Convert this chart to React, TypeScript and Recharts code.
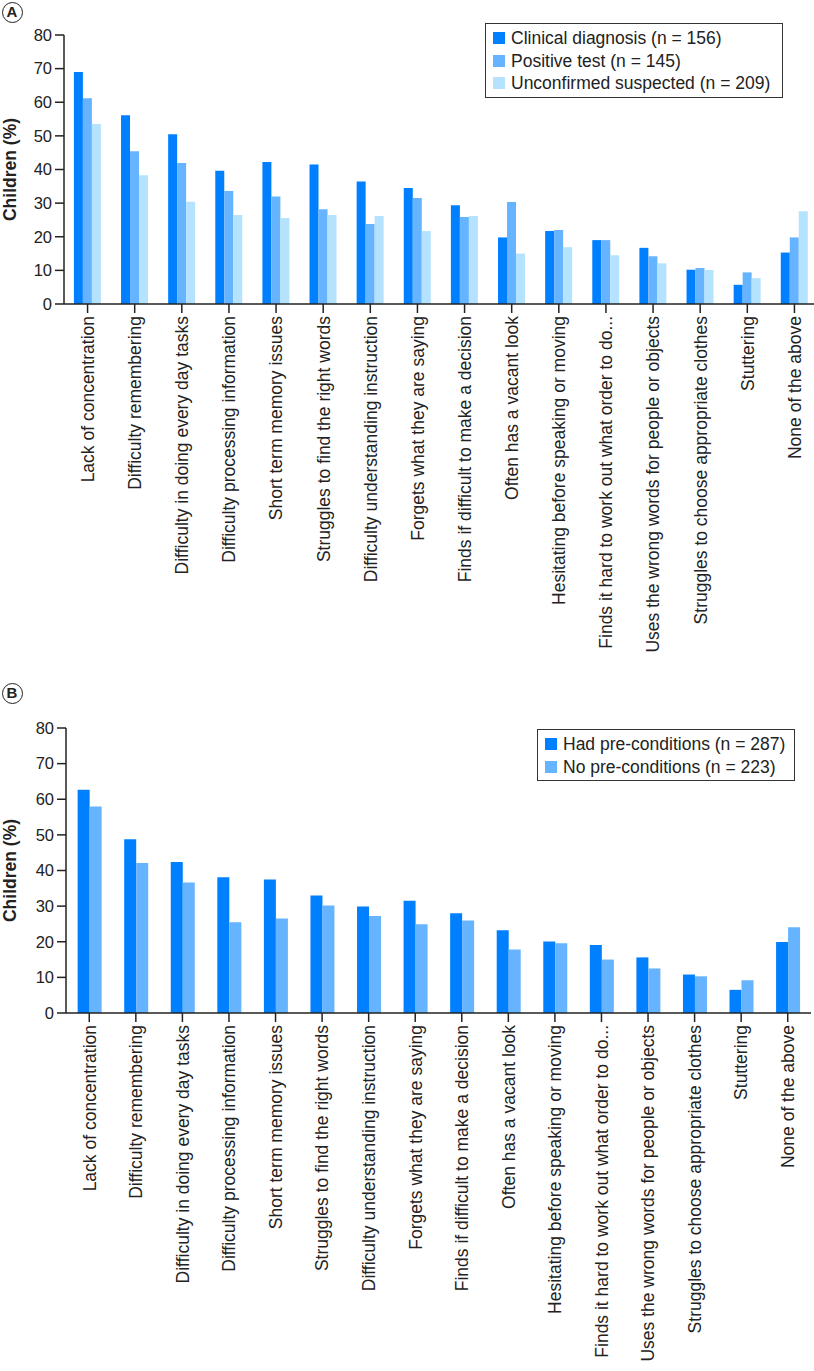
import React from "react";
import { BarChart, Bar, XAxis, YAxis, Legend } from "recharts";

// symptom categories (same order in both panels)
const categories = [
  "Lack of concentration",
  "Difficulty remembering",
  "Difficulty in doing every day tasks",
  "Difficulty processing information",
  "Short term memory issues",
  "Struggles to find the right words",
  "Difficulty understanding instruction",
  "Forgets what they are saying",
  "Finds if difficult to make a decision",
  "Often has a vacant look",
  "Hesitating before speaking or moving",
  "Finds it hard to work out what order to do...",
  "Uses the wrong words for people or objects",
  "Struggles to choose appropriate clothes",
  "Stuttering",
  "None of the above",
];

// panel A
const clinical = [69.0, 56.1, 50.5, 39.6, 42.2, 41.5, 36.4, 34.5, 29.4, 19.8, 21.7, 19.0, 16.7, 10.2, 5.7, 15.3];
const positive = [61.2, 45.4, 41.9, 33.6, 32.0, 28.2, 23.8, 31.5, 25.9, 30.3, 22.0, 19.0, 14.2, 10.7, 9.4, 19.8];
const unconfirmed = [53.5, 38.3, 30.4, 26.5, 25.6, 26.5, 26.2, 21.7, 26.2, 15.0, 16.9, 14.5, 12.1, 10.1, 7.7, 27.6];

// panel B
const hadPre = [62.7, 48.8, 42.4, 38.1, 37.5, 33.0, 29.9, 31.5, 28.0, 23.2, 20.1, 19.1, 15.6, 10.8, 6.5, 19.9];
const noPre = [58.0, 42.1, 36.6, 25.5, 26.5, 30.2, 27.2, 24.9, 26.0, 17.8, 19.6, 15.0, 12.5, 10.3, 9.2, 24.1];

const yTicks = [0, 10, 20, 30, 40, 50, 60, 70, 80];

const seriesA = [
  { key: "clinical", name: "Clinical diagnosis (n = 156)", color: "#0080ff" },
  { key: "positive", name: "Positive test (n = 145)", color: "#66b3ff" },
  { key: "unconfirmed", name: "Unconfirmed suspected (n = 209)", color: "#b5e3ff" },
];
const seriesB = [
  { key: "hadPre", name: "Had pre-conditions (n = 287)", color: "#0080ff" },
  { key: "noPre", name: "No pre-conditions (n = 223)", color: "#66b3ff" },
];

const dataA = categories.map((name, i) => ({
  name,
  clinical: clinical[i],
  positive: positive[i],
  unconfirmed: unconfirmed[i],
}));
const dataB = categories.map((name, i) => ({
  name,
  hadPre: hadPre[i],
  noPre: noPre[i],
}));

const FONT = "'Liberation Sans', Arial, Helvetica, sans-serif";
const INK = "#222";

const CatTick = (props: any) => {
  const { x, y, payload } = props;
  return (
    <text
      transform={`translate(${x},${y}) rotate(-90)`}
      textAnchor="end"
      dy="0.36em"
      fontSize={17.5}
      fontFamily={FONT}
      fill={INK}
    >
      {payload.value}
    </text>
  );
};

const YLabel = (props: any) => {
  const vb = props.viewBox || {};
  const cy = (vb.y ?? 0) + (vb.height ?? 0) / 2;
  return (
    <text
      transform={`translate(10,${cy}) rotate(-90)`}
      textAnchor="middle"
      dy="0.36em"
      fontSize={17.5}
      fontWeight="bold"
      fontFamily={FONT}
      fill={INK}
    >
      Children (%)
    </text>
  );
};

// legend box is absolutely placed so it takes no room from the plot
const legendBox = (items: { name: string; color: string }[], w: number, h: number) => () =>
  (
    <div
      style={{
        position: "absolute",
        left: 0,
        top: 0,
        boxSizing: "border-box",
        width: w,
        height: h,
        border: "1.5px solid #333",
        background: "#fff",
        padding: "3px 7px",
        fontFamily: FONT,
        fontSize: 17.5,
        color: INK,
        lineHeight: "22.5px",
        whiteSpace: "nowrap",
      }}
    >
      {items.map((it) => (
        <div key={it.name} style={{ display: "flex", alignItems: "center" }}>
          <span style={{ display: "inline-block", width: 12, height: 12, background: it.color, marginRight: 6 }} />
          <span>{it.name}</span>
        </div>
      ))}
    </div>
  );

const PanelTag = ({ letter, top }: { letter: string; top: number }) => (
  <div
    style={{
      position: "absolute",
      left: 1.5,
      top,
      width: 21,
      height: 21,
      boxSizing: "border-box",
      border: `1.5px solid ${INK}`,
      borderRadius: "50%",
      fontFamily: FONT,
      fontWeight: "bold",
      fontSize: 15,
      lineHeight: "18px",
      textAlign: "center",
      color: INK,
      background: "#fff",
    }}
  >
    {letter}
  </div>
);

export default function App() {
  return (
    <div
      style={{
        position: "absolute",
        left: 0,
        top: 0,
        width: 814,
        height: 1371,
        overflow: "hidden",
        background: "#fff",
      }}
    >
      <div style={{ position: "absolute", left: 0, top: 0 }}>
        <BarChart
          width={818}
          height={670}
          data={dataA}
          margin={{ top: 35, right: 0, bottom: 0, left: 0 }}
          barCategoryGap="21%"
          barGap={0}
        >
          <XAxis
            dataKey="name"
            interval={0}
            height={366}
            tick={<CatTick />}
            tickSize={9}
            tickMargin={3}
            stroke={INK}
            strokeWidth={1.5}
          />
          <YAxis
            domain={[0, 80]}
            ticks={yTicks}
            interval={0}
            width={64}
            tickSize={9}
            tickMargin={3}
            stroke={INK}
            strokeWidth={1.5}
            tick={{ fill: INK, fontSize: 16.5, fontFamily: FONT }}
            label={<YLabel />}
          />
          <Legend
            layout="vertical"
            content={legendBox(seriesA, 298, 75)}
            wrapperStyle={{ position: "absolute", left: 485, top: 23, width: 0, height: 0, right: "auto", bottom: "auto" }}
          />
          {seriesA.map((s) => (
            <Bar key={s.key} dataKey={s.key} name={s.name} fill={s.color} isAnimationActive={false} />
          ))}
        </BarChart>
      </div>
      <PanelTag letter="A" top={1.5} />

      <div style={{ position: "absolute", left: 0, top: 680 }}>
        <BarChart
          width={814}
          height={691}
          data={dataB}
          margin={{ top: 48, right: 3, bottom: 0, left: 0 }}
          barCategoryGap="25%"
          barGap={0}
        >
          <XAxis
            dataKey="name"
            interval={0}
            height={358}
            tick={<CatTick />}
            tickSize={9}
            tickMargin={3}
            stroke={INK}
            strokeWidth={1.5}
          />
          <YAxis
            domain={[0, 80]}
            ticks={yTicks}
            interval={0}
            width={66}
            tickSize={9}
            tickMargin={3}
            stroke={INK}
            strokeWidth={1.5}
            tick={{ fill: INK, fontSize: 16.5, fontFamily: FONT }}
            label={<YLabel />}
          />
          <Legend
            layout="vertical"
            content={legendBox(seriesB, 258, 52)}
            wrapperStyle={{ position: "absolute", left: 537, top: 49, width: 0, height: 0, right: "auto", bottom: "auto" }}
          />
          {seriesB.map((s) => (
            <Bar key={s.key} dataKey={s.key} name={s.name} fill={s.color} isAnimationActive={false} />
          ))}
        </BarChart>
      </div>
      <PanelTag letter="B" top={683} />
    </div>
  );
}
